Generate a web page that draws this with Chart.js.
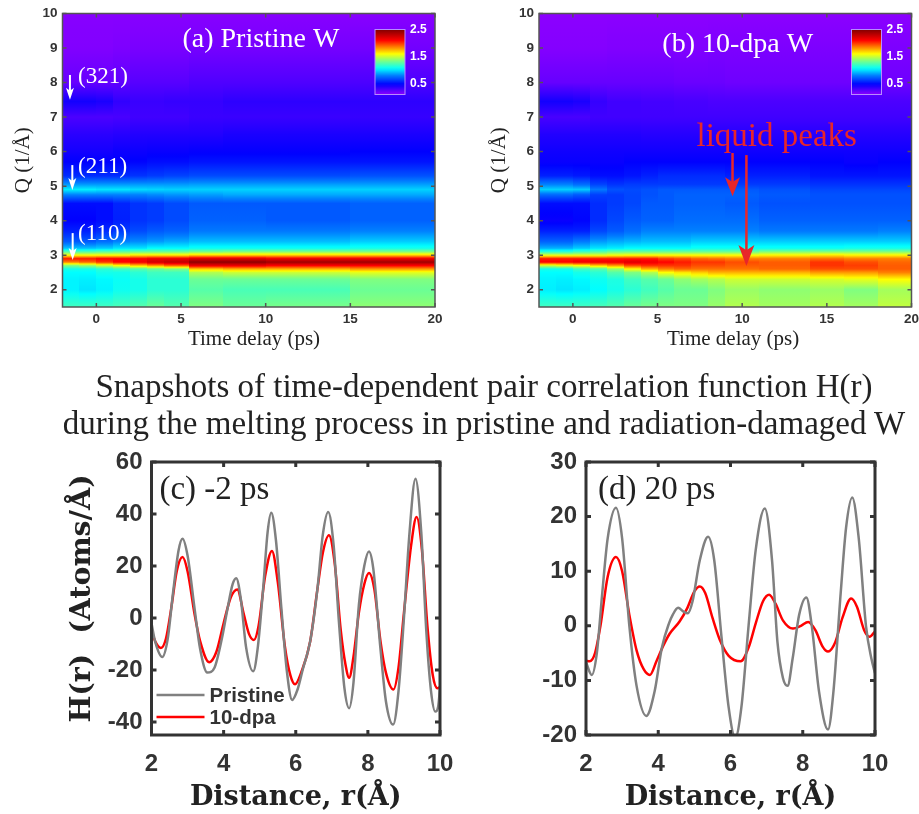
<!DOCTYPE html>
<html>
<head>
<meta charset="utf-8">
<title>H(r) melting snapshots</title>
<script src="https://cdn.jsdelivr.net/npm/chart.js@4/dist/chart.umd.min.js"></script>
<style>
  body { margin: 0; background: #fff; width: 919px; height: 814px; position: relative; overflow: hidden; }
  canvas { position: absolute; filter: blur(0.45px); }
  .head { position: absolute; left: 0; width: 968px; text-align: center; font: 33px "Liberation Serif", serif; color: #222; white-space: nowrap; line-height: 34px; filter: blur(0.3px); }
</style>
</head>
<body>
<div class="head" style="top:369px">Snapshots of time-dependent pair correlation function H(r)</div>
<div class="head" style="top:406px">during the melting process in pristine and radiation-damaged W</div>
<canvas id="panelA" width="460" height="360" style="left:0;top:0"></canvas>
<canvas id="panelB" width="459" height="360" style="left:460px;top:0"></canvas>
<canvas id="panelC" width="460" height="364" style="left:0;top:450px"></canvas>
<canvas id="panelD" width="459" height="364" style="left:460px;top:450px"></canvas>
<script>
// colour map
const cmapValues = [0.1, 0.47, 0.8, 1.05, 1.35, 1.6, 1.85, 2.1, 2.5];
const cmapColors = [[140,0,255],[0,0,255],[0,128,255],[0,255,255],[128,255,128],[255,255,0],[255,128,0],[255,0,0],[128,0,0]];
const barTicks = [2.5, 1.5, 0.5];

// heat maps: Q rows (low to high), time bin edges, intensity per row and bin
const qRows = [1.5, 2.0, 2.3, 2.5, 2.6, 2.7, 2.8, 2.9, 3.0, 3.1, 3.2, 3.4, 3.7, 4.0, 4.5, 4.75, 4.9, 5.05, 5.3, 5.7, 6.0, 6.5, 7.0, 7.45, 8.0, 9.0, 10.0];
const timeEdgesA = [-2, -1, 0, 1, 2, 3, 4, 5.5, 7.5, 10, 15, 20];
const timeEdgesB = [-2, -1, 0, 1, 2, 3, 4, 5, 6, 7, 8, 9, 11, 14, 16, 18, 20];
const heatA = [
  [1.2, 1.2, 1.2, 1.22, 1.25, 1.3, 1.25, 1.35, 1.3, 1.33, 1.38],
  [1.03, 1.0, 1.03, 1.08, 1.1, 1.15, 1.15, 1.25, 1.22, 1.22, 1.3],
  [1.03, 1.02, 1.04, 1.07, 1.1, 1.15, 1.15, 1.3, 1.3, 1.3, 1.35],
  [1.05, 1.05, 1.1, 1.1, 1.15, 1.2, 1.2, 1.45, 1.5, 1.5, 1.55],
  [1.1, 1.1, 1.15, 1.2, 1.25, 1.3, 1.35, 1.7, 1.75, 1.75, 1.8],
  [1.35, 1.4, 1.5, 1.6, 1.7, 1.8, 1.9, 2.15, 2.15, 2.1, 2.1],
  [1.85, 1.9, 2.0, 2.1, 2.15, 2.25, 2.3, 2.45, 2.45, 2.4, 2.4],
  [2.05, 2.05, 2.1, 2.1, 2.1, 2.15, 2.15, 2.2, 2.2, 2.15, 2.15],
  [1.6, 1.6, 1.6, 1.6, 1.65, 1.65, 1.65, 1.7, 1.7, 1.7, 1.7],
  [1.25, 1.25, 1.27, 1.28, 1.3, 1.3, 1.3, 1.33, 1.35, 1.35, 1.35],
  [0.93, 0.93, 0.95, 1.0, 1.0, 1.05, 1.05, 1.08, 1.08, 1.08, 1.1],
  [0.7, 0.7, 0.75, 0.8, 0.82, 0.85, 0.88, 0.92, 0.92, 0.92, 0.95],
  [0.55, 0.55, 0.58, 0.62, 0.66, 0.7, 0.72, 0.78, 0.78, 0.78, 0.8],
  [0.47, 0.47, 0.5, 0.55, 0.6, 0.62, 0.66, 0.72, 0.72, 0.7, 0.72],
  [0.5, 0.5, 0.5, 0.56, 0.6, 0.62, 0.66, 0.7, 0.7, 0.7, 0.72],
  [0.8, 0.8, 0.8, 0.8, 0.8, 0.82, 0.84, 0.86, 0.88, 0.88, 0.88],
  [1.02, 1.02, 1.0, 1.0, 0.98, 0.97, 0.96, 0.96, 0.96, 0.96, 0.96],
  [0.85, 0.85, 0.85, 0.85, 0.85, 0.85, 0.85, 0.86, 0.86, 0.86, 0.86],
  [0.58, 0.58, 0.58, 0.58, 0.6, 0.62, 0.64, 0.66, 0.66, 0.66, 0.68],
  [0.47, 0.47, 0.47, 0.47, 0.48, 0.5, 0.5, 0.52, 0.52, 0.52, 0.52],
  [0.42, 0.42, 0.42, 0.44, 0.44, 0.45, 0.45, 0.46, 0.46, 0.46, 0.47],
  [0.36, 0.36, 0.36, 0.37, 0.38, 0.38, 0.38, 0.38, 0.4, 0.4, 0.4],
  [0.27, 0.27, 0.27, 0.28, 0.3, 0.3, 0.3, 0.32, 0.32, 0.32, 0.33],
  [0.42, 0.42, 0.4, 0.34, 0.32, 0.32, 0.33, 0.33, 0.35, 0.35, 0.35],
  [0.2, 0.2, 0.2, 0.22, 0.24, 0.24, 0.24, 0.26, 0.26, 0.26, 0.27],
  [0.13, 0.13, 0.13, 0.14, 0.15, 0.15, 0.15, 0.16, 0.16, 0.16, 0.17],
  [0.11, 0.11, 0.11, 0.11, 0.11, 0.11, 0.11, 0.11, 0.11, 0.11, 0.11]
];
const heatB = [
  [1.2, 1.2, 1.2, 1.22, 1.25, 1.3, 1.33, 1.35, 1.35, 1.35, 1.4, 1.45, 1.42, 1.45, 1.42, 1.48],
  [1.02, 1.0, 1.02, 1.05, 1.1, 1.15, 1.2, 1.25, 1.3, 1.3, 1.35, 1.4, 1.38, 1.4, 1.35, 1.42],
  [1.03, 1.02, 1.04, 1.08, 1.12, 1.2, 1.25, 1.3, 1.38, 1.42, 1.45, 1.5, 1.5, 1.52, 1.55, 1.6],
  [1.05, 1.05, 1.1, 1.15, 1.25, 1.35, 1.45, 1.6, 1.65, 1.7, 1.75, 1.75, 1.75, 1.8, 1.8, 1.85],
  [1.1, 1.1, 1.2, 1.25, 1.4, 1.6, 1.75, 1.85, 1.9, 1.88, 1.88, 1.88, 1.9, 1.95, 1.95, 1.92],
  [1.5, 1.55, 1.6, 1.7, 1.8, 1.95, 2.0, 2.0, 2.0, 1.95, 1.95, 1.92, 1.92, 2.0, 1.98, 1.92],
  [2.1, 2.1, 2.15, 2.15, 2.15, 2.2, 2.15, 2.1, 2.05, 2.0, 2.0, 1.95, 1.92, 2.0, 1.95, 1.9],
  [2.05, 2.05, 2.05, 2.05, 2.05, 2.05, 2.05, 1.98, 1.95, 1.9, 1.88, 1.85, 1.85, 1.88, 1.85, 1.85],
  [1.55, 1.55, 1.55, 1.55, 1.58, 1.6, 1.6, 1.6, 1.6, 1.6, 1.6, 1.6, 1.62, 1.65, 1.62, 1.62],
  [1.15, 1.15, 1.2, 1.25, 1.3, 1.3, 1.3, 1.3, 1.3, 1.3, 1.3, 1.3, 1.35, 1.35, 1.35, 1.35],
  [0.9, 0.9, 0.95, 1.0, 1.02, 1.05, 1.05, 1.05, 1.05, 1.08, 1.08, 1.08, 1.08, 1.08, 1.1, 1.1],
  [0.72, 0.72, 0.78, 0.85, 0.88, 0.9, 0.92, 0.92, 0.92, 0.95, 0.95, 0.95, 0.95, 0.95, 0.95, 0.95],
  [0.55, 0.55, 0.55, 0.65, 0.7, 0.75, 0.8, 0.8, 0.8, 0.8, 0.8, 0.8, 0.78, 0.78, 0.78, 0.8],
  [0.45, 0.45, 0.48, 0.58, 0.65, 0.7, 0.72, 0.72, 0.75, 0.75, 0.75, 0.75, 0.72, 0.72, 0.72, 0.72],
  [0.5, 0.5, 0.5, 0.58, 0.62, 0.65, 0.7, 0.7, 0.72, 0.72, 0.72, 0.7, 0.68, 0.68, 0.68, 0.68],
  [0.74, 0.74, 0.7, 0.63, 0.62, 0.65, 0.68, 0.7, 0.72, 0.72, 0.72, 0.72, 0.7, 0.68, 0.68, 0.68],
  [0.96, 0.96, 0.95, 0.78, 0.68, 0.66, 0.68, 0.7, 0.7, 0.7, 0.7, 0.7, 0.68, 0.65, 0.65, 0.65],
  [0.8, 0.8, 0.75, 0.64, 0.6, 0.62, 0.62, 0.62, 0.62, 0.62, 0.62, 0.62, 0.62, 0.6, 0.6, 0.6],
  [0.55, 0.55, 0.53, 0.5, 0.5, 0.52, 0.55, 0.58, 0.58, 0.58, 0.58, 0.55, 0.55, 0.52, 0.52, 0.52],
  [0.45, 0.45, 0.45, 0.45, 0.45, 0.47, 0.47, 0.47, 0.47, 0.47, 0.47, 0.47, 0.47, 0.47, 0.45, 0.47],
  [0.43, 0.43, 0.43, 0.43, 0.43, 0.43, 0.43, 0.43, 0.43, 0.43, 0.43, 0.43, 0.43, 0.43, 0.43, 0.43],
  [0.38, 0.38, 0.38, 0.38, 0.38, 0.38, 0.37, 0.37, 0.37, 0.37, 0.37, 0.37, 0.37, 0.37, 0.37, 0.37],
  [0.28, 0.28, 0.28, 0.3, 0.3, 0.3, 0.3, 0.3, 0.3, 0.3, 0.3, 0.3, 0.3, 0.3, 0.3, 0.3],
  [0.42, 0.42, 0.4, 0.33, 0.3, 0.3, 0.29, 0.29, 0.28, 0.28, 0.27, 0.27, 0.27, 0.27, 0.27, 0.27],
  [0.2, 0.2, 0.2, 0.2, 0.2, 0.2, 0.2, 0.2, 0.19, 0.19, 0.19, 0.18, 0.18, 0.18, 0.18, 0.18],
  [0.12, 0.12, 0.12, 0.12, 0.13, 0.13, 0.13, 0.13, 0.13, 0.13, 0.14, 0.14, 0.14, 0.14, 0.14, 0.14],
  [0.1, 0.1, 0.1, 0.1, 0.1, 0.1, 0.1, 0.1, 0.1, 0.1, 0.1, 0.1, 0.1, 0.1, 0.1, 0.1]
];

// H(r) curves, read at the turning points and between them
const rPristineC = [2.0, 2.1, 2.3, 2.45, 2.6, 2.75, 2.86, 3.0, 3.2, 3.35, 3.55, 3.75, 3.95, 4.1, 4.25, 4.35, 4.48, 4.62, 4.82, 4.95, 5.1, 5.22, 5.32, 5.45, 5.6, 5.75, 5.9, 6.05, 6.2, 6.4, 6.6, 6.75, 6.9, 7.05, 7.2, 7.35, 7.48, 7.6, 7.75, 7.9, 8.03, 8.15, 8.35, 8.5, 8.7, 8.85, 9.0, 9.15, 9.32, 9.48, 9.62, 9.75, 9.87, 9.95, 10.0];
const hPristineC = [-2, -9, -15, -8, 10, 26, 30.5, 24, 3, -12, -21, -19, -8, 3, 13, 15.3, 7, -11, -20.5, -11, 12, 33, 40.5, 30, 4, -20, -31.5, -27.5, -19.5, -9, 11, 32, 40.8, 28, -2, -27, -34.7, -25, 5, 20, 25.6, 19, -12, -32, -41, -28, 0, 32, 53.6, 33, -5, -28, -36, -34, -27];
const rDpaC = [2.0, 2.12, 2.26, 2.4, 2.55, 2.7, 2.86, 3.0, 3.2, 3.35, 3.6, 3.8, 4.0, 4.2, 4.38, 4.55, 4.7, 4.84, 4.97, 5.15, 5.34, 5.5, 5.7, 5.85, 5.98, 6.15, 6.4, 6.6, 6.75, 6.92, 7.08, 7.25, 7.38, 7.48, 7.6, 7.75, 7.9, 8.03, 8.18, 8.35, 8.5, 8.71, 8.85, 9.0, 9.2, 9.35, 9.5, 9.65, 9.8, 9.93, 10.0];
const hDpaC = [-5, -9.5, -11.5, -8, 4, 18, 23.5, 18, 1, -9, -17, -13, -2, 8, 11, 2, -6, -8.5, -3, 16, 25.8, 14, -11, -22, -25.5, -21, -9, 11, 25, 31.8, 21, -5, -18, -23, -15, 2, 13, 17.3, 11, -9, -21, -27.5, -19, 2, 28, 38.8, 26, -3, -22, -27, -26.5];
const rPristineD = [2.0, 2.16, 2.3, 2.45, 2.6, 2.83, 3.0, 3.2, 3.4, 3.67, 3.9, 4.1, 4.3, 4.4, 4.55, 4.7, 4.82, 4.95, 5.15, 5.38, 5.55, 5.75, 5.95, 6.13, 6.3, 6.5, 6.7, 6.95, 7.15, 7.3, 7.45, 7.58, 7.72, 7.9, 8.1, 8.25, 8.45, 8.7, 8.85, 9.05, 9.2, 9.37, 9.55, 9.75, 9.9, 10.0];
const hPristineD = [-6.7, -9, -5, 6, 16, 21.6, 16, 0, -11, -16.5, -12, -4, 0.5, 2, 3.3, 2.6, 2.3, 4.5, 12, 16.3, 12, -2, -15, -20.5, -15, 0, 14, 21.5, 12, -3, -9.5, -11, -6, 2, 5.2, 0, -12, -19, -12, 6, 18, 23.5, 16, 0, -6, -8.7];
const rDpaD = [2.0, 2.1, 2.25, 2.4, 2.6, 2.83, 3.0, 3.2, 3.4, 3.6, 3.77, 3.95, 4.15, 4.31, 4.59, 4.8, 5.0, 5.15, 5.3, 5.5, 5.7, 5.95, 6.28, 6.5, 6.7, 6.9, 7.07, 7.25, 7.45, 7.73, 7.95, 8.15, 8.35, 8.55, 8.7, 8.9, 9.1, 9.34, 9.5, 9.7, 9.85, 10.0];
const hDpaD = [-6.4, -6.5, -5, 0, 9, 12.6, 10, 2, -4.5, -8, -9, -6.5, -3.5, -1.5, 0.8, 3.2, 6.3, 7.2, 6, 1.5, -2.5, -5.5, -6.5, -4, 0.5, 4.5, 5.7, 4, 1, -0.5, 0, 0.7, -0.8, -3.8, -4.7, -3, 1.5, 5, 3.5, -0.8, -2, -1];

// axis ticks
const timeTicks = [0, 5, 10, 15, 20];
const qTicks = [2, 3, 4, 5, 6, 7, 8, 9, 10];
const rTicks = [2, 4, 6, 8, 10];
const hTicksC = [-40, -20, 0, 20, 40, 60];
const hTicksD = [-20, -10, 0, 10, 20, 30];

const serif = '"Liberation Serif", serif';
const sans = '"Liberation Sans", sans-serif';
const boldSerif = '"DejaVu Serif", serif';
const inkColor = '#333';

function valueColor(v) {
  let i = 0;
  while (i < cmapValues.length - 2 && v > cmapValues[i + 1]) i++;
  const f = Math.max(0, Math.min(1, (v - cmapValues[i]) / (cmapValues[i + 1] - cmapValues[i])));
  const a = cmapColors[i], b = cmapColors[i + 1];
  return `rgb(${a.map((c, k) => Math.round(c + (b[k] - c) * f)).join(',')})`;
}

function heatPlugin(edges, matrix) {
  return {
    id: 'heat',
    beforeDatasetsDraw(chart) {
      const { ctx, chartArea, scales: { x, y } } = chart;
      const top = y.getPixelForValue(qRows[qRows.length - 1]);
      const bottom = y.getPixelForValue(qRows[0]);
      ctx.save();
      ctx.beginPath();
      ctx.rect(chartArea.left, chartArea.top, chartArea.width, chartArea.height);
      ctx.clip();
      for (let c = 0; c < edges.length - 1; c++) {
        const x0 = Math.round(x.getPixelForValue(edges[c]));
        const x1 = Math.round(x.getPixelForValue(edges[c + 1]));
        const grad = ctx.createLinearGradient(0, bottom, 0, top);
        for (let r = 0; r < qRows.length - 1; r++) {
          // Q is shaded between rows, time stays in bins
          for (let s = 0; s < 4; s++) {
            const v = matrix[r][c] + (matrix[r + 1][c] - matrix[r][c]) * s / 4;
            const q = qRows[r] + (qRows[r + 1] - qRows[r]) * s / 4;
            grad.addColorStop((y.getPixelForValue(q) - bottom) / (top - bottom), valueColor(v));
          }
        }
        grad.addColorStop(1, valueColor(matrix[qRows.length - 1][c]));
        ctx.fillStyle = grad;
        ctx.fillRect(x0, top, x1 - x0, bottom - top);
      }
      ctx.restore();
    }
  };
}

function colorBarPlugin() {
  return {
    id: 'colorBar',
    afterDatasetsDraw(chart) {
      const { ctx, chartArea } = chart;
      const left = chartArea.right - 60, right = left + 30;
      const top = 29.5, bottom = 94.5;
      const perUnit = 27;
      const grad = ctx.createLinearGradient(0, top, 0, bottom);
      for (let s = 0; s <= 24; s++) {
        const v = 2.5 - (bottom - top) / perUnit * s / 24;
        grad.addColorStop(s / 24, valueColor(v));
      }
      ctx.save();
      ctx.fillStyle = grad;
      ctx.fillRect(left, top, right - left, bottom - top);
      ctx.strokeStyle = '#b88cff';
      ctx.lineWidth = 1;
      ctx.strokeRect(left, top, right - left, bottom - top);
      ctx.fillStyle = '#fff';
      ctx.font = `bold 12px ${sans}`;
      ctx.textAlign = 'left';
      ctx.textBaseline = 'middle';
      barTicks.forEach(v => ctx.fillText(v.toFixed(1), right + 5, top + (2.5 - v) * perUnit));
      ctx.restore();
    }
  };
}

// box round the plot, ticks pointing inward on all four sides
function framePlugin(color, lineWidth, tickLen) {
  return {
    id: 'frame',
    afterDatasetsDraw(chart) {
      const { ctx, chartArea: a, scales: { x, y } } = chart;
      ctx.save();
      ctx.strokeStyle = color;
      ctx.lineWidth = lineWidth;
      ctx.strokeRect(a.left, a.top, a.width, a.height);
      ctx.beginPath();
      x.ticks.forEach(t => {
        const p = x.getPixelForValue(t.value);
        ctx.moveTo(p, a.bottom); ctx.lineTo(p, a.bottom - tickLen);
        ctx.moveTo(p, a.top); ctx.lineTo(p, a.top + tickLen);
      });
      y.ticks.forEach(t => {
        const p = y.getPixelForValue(t.value);
        ctx.moveTo(a.left, p); ctx.lineTo(a.left + tickLen, p);
        ctx.moveTo(a.right, p); ctx.lineTo(a.right - tickLen, p);
      });
      ctx.stroke();
      ctx.restore();
    }
  };
}

function notesPlugin(notes, arrows) {
  return {
    id: 'notes',
    afterDraw(chart) {
      const { ctx, scales: { x, y } } = chart;
      ctx.save();
      arrows.forEach(a => {
        const px = x.getPixelForValue(a.t);
        const y0 = y.getPixelForValue(a.from);
        const y1 = y.getPixelForValue(a.to);
        ctx.strokeStyle = ctx.fillStyle = a.color;
        ctx.lineWidth = a.width;
        ctx.beginPath();
        ctx.moveTo(px, y0);
        ctx.lineTo(px, y1 - a.headLen * 0.7);
        ctx.stroke();
        ctx.beginPath();
        ctx.moveTo(px, y1);
        ctx.lineTo(px - a.headWidth / 2, y1 - a.headLen);
        ctx.lineTo(px, y1 - a.headLen * 0.75);
        ctx.lineTo(px + a.headWidth / 2, y1 - a.headLen);
        ctx.closePath();
        ctx.fill();
      });
      notes.forEach(n => {
        ctx.fillStyle = n.color;
        ctx.font = n.font;
        ctx.textAlign = n.align;
        ctx.textBaseline = 'middle';
        ctx.fillText(n.text, x.getPixelForValue(n.t), y.getPixelForValue(n.q));
      });
      ctx.restore();
    }
  };
}

function legendPlugin() {
  return {
    id: 'lineLegend',
    afterDraw(chart) {
      const { ctx, chartArea: a } = chart;
      ctx.save();
      ctx.font = `bold 20.5px ${sans}`;
      ctx.textAlign = 'left';
      ctx.textBaseline = 'middle';
      chart.data.datasets.forEach((d, i) => {
        const py = a.bottom - 40 + i * 22;
        ctx.strokeStyle = d.borderColor;
        ctx.lineWidth = d.borderWidth;
        ctx.beginPath();
        ctx.moveTo(a.left + 5, py);
        ctx.lineTo(a.left + 53, py);
        ctx.stroke();
        ctx.fillStyle = inkColor;
        ctx.fillText(d.label, a.left + 58, py + 1);
      });
      ctx.restore();
    }
  };
}

function axis(cfg) {
  return {
    type: 'linear',
    min: cfg.min,
    max: cfg.max,
    grid: { display: false, drawTicks: false },
    border: { display: false },
    afterBuildTicks: s => { s.ticks = cfg.ticks.map(v => ({ value: v })); },
    afterFit: s => {
      if (s.isHorizontal()) s.height = cfg.size; else s.width = cfg.size;
      s.paddingLeft = s.paddingRight = s.paddingTop = s.paddingBottom = 0;
    },
    ticks: {
      autoSkip: false, maxRotation: 0, color: inkColor, padding: cfg.tickPad,
      font: { family: sans, size: cfg.tickSize, weight: 'bold' }
    },
    title: {
      display: cfg.title !== '', text: cfg.title, color: '#222',
      font: { family: cfg.titleFamily, size: cfg.titleSize, weight: cfg.titleWeight },
      padding: { top: cfg.titlePad, bottom: cfg.titlePad }
    }
  };
}

function heatChart(id, edges, matrix, leftSpace, rightSpace, xTitle, notes, arrows) {
  const cells = [];
  qRows.forEach((q, r) => edges.slice(0, -1).forEach((e, c) => {
    cells.push({ x: (e + edges[c + 1]) / 2, y: q, v: matrix[r][c] });
  }));
  return new Chart(document.getElementById(id), {
    type: 'scatter',
    data: { datasets: [{ label: 'Intensity', data: cells, pointRadius: 0 }] },
    options: {
      responsive: false, animation: false, devicePixelRatio: 1,
      layout: { padding: { top: 13.5, right: rightSpace, left: 0, bottom: 0 } },
      plugins: { legend: { display: false }, tooltip: { enabled: false } },
      scales: {
        x: axis({ min: -2, max: 20, ticks: timeTicks, size: 53, tickPad: 4.5, tickSize: 13.5, title: xTitle, titleFamily: serif, titleSize: 21, titleWeight: 'normal', titlePad: 8.4 }),
        y: axis({ min: 1.5, max: 10, ticks: qTicks, size: leftSpace, tickPad: 5, tickSize: 13.5, title: 'Q (1/Å)', titleFamily: serif, titleSize: 21, titleWeight: 'normal', titlePad: leftSpace - 52 })
      }
    },
    plugins: [heatPlugin(edges, matrix), colorBarPlugin(), framePlugin('#555', 1.5, 4), notesPlugin(notes, arrows)]
  });
}

function lineChart(id, pristine, dpa, yMin, yMax, yTicks, leftSpace, rightSpace, yTitle, notes, extra) {
  const toPoints = ([xs, ys]) => xs.map((v, i) => ({ x: v, y: ys[i] }));
  return new Chart(document.getElementById(id), {
    type: 'scatter',
    data: {
      datasets: [
        { label: 'Pristine', data: toPoints(pristine), showLine: true, pointRadius: 0, borderColor: '#808080', borderWidth: 2.5, cubicInterpolationMode: 'monotone' },
        { label: '10-dpa', data: toPoints(dpa), showLine: true, pointRadius: 0, borderColor: '#ff0000', borderWidth: 2.5, cubicInterpolationMode: 'monotone' }
      ]
    },
    options: {
      responsive: false, animation: false, devicePixelRatio: 1,
      layout: { padding: { top: 12, right: rightSpace, left: 0, bottom: 0 } },
      plugins: { legend: { display: false }, tooltip: { enabled: false } },
      scales: {
        x: axis({ min: 2, max: 10, ticks: rTicks, size: 79, tickPad: 15, tickSize: 24, title: 'Distance, r(Å)', titleFamily: boldSerif, titleSize: 27, titleWeight: 'bold', titlePad: 0 }),
        y: axis({ min: yMin, max: yMax, ticks: yTicks, size: leftSpace, tickPad: 9, tickSize: 24, title: yTitle, titleFamily: boldSerif, titleSize: 28.5, titleWeight: 'bold', titlePad: 65 })
      }
    },
    plugins: [framePlugin(inkColor, 3, 5), notesPlugin(notes, [])].concat(extra)
  });
}

const white = '#fff', red = '#e8262a';
const hklFont = `23px ${serif}`;

heatChart('panelA', timeEdgesA, heatA, 62.5, 25, '  Time delay (ps)', [
  { text: '(a) Pristine W', t: 9.72, q: 9.23, align: 'center', color: white, font: `28px ${serif}` },
  { text: '(321)', t: -1.08, q: 8.16, align: 'left', color: white, font: hklFont },
  { text: '(211)', t: -1.08, q: 5.55, align: 'left', color: white, font: hklFont },
  { text: '(110)', t: -1.08, q: 3.61, align: 'left', color: white, font: hklFont }
], [
  { t: -1.56, from: 8.22, to: 7.5, color: white, width: 2, headLen: 12, headWidth: 8 },
  { t: -1.42, from: 5.61, to: 4.89, color: white, width: 2, headLen: 12, headWidth: 8 },
  { t: -1.4, from: 3.64, to: 2.86, color: white, width: 2, headLen: 12, headWidth: 8 }
]);

heatChart('panelB', timeEdgesB, heatB, 79, 7.5, '   Time delay (ps)', [
  { text: '(b) 10-dpa W', t: 9.74, q: 9.09, align: 'center', color: white, font: `28px ${serif}` },
  { text: 'liquid peaks', t: 12.04, q: 6.42, align: 'center', color: red, font: `33px ${serif}` }
], [
  { t: 9.43, from: 5.96, to: 4.71, color: red, width: 2.5, headLen: 19, headWidth: 15 },
  { t: 10.25, from: 5.9, to: 2.69, color: red, width: 2.5, headLen: 21, headWidth: 16 }
]);

lineChart('panelC', [rPristineC, hPristineC], [rDpaC, hDpaC], -45, 60, hTicksC, 151.5, 20, 'H(r)  (Atoms/Å)', [
  { text: '(c) -2 ps', t: 2.22, q: 49, align: 'left', color: '#222', font: `33px ${serif}` }
], [legendPlugin()]);

lineChart('panelD', [rPristineD, hPristineD], [rDpaD, hDpaD], -20, 30, hTicksD, 126, 44, '', [
  { text: '(d) 20 ps', t: 2.33, q: 24.8, align: 'left', color: '#222', font: `33px ${serif}` }
], []);
</script>
</body>
</html>
